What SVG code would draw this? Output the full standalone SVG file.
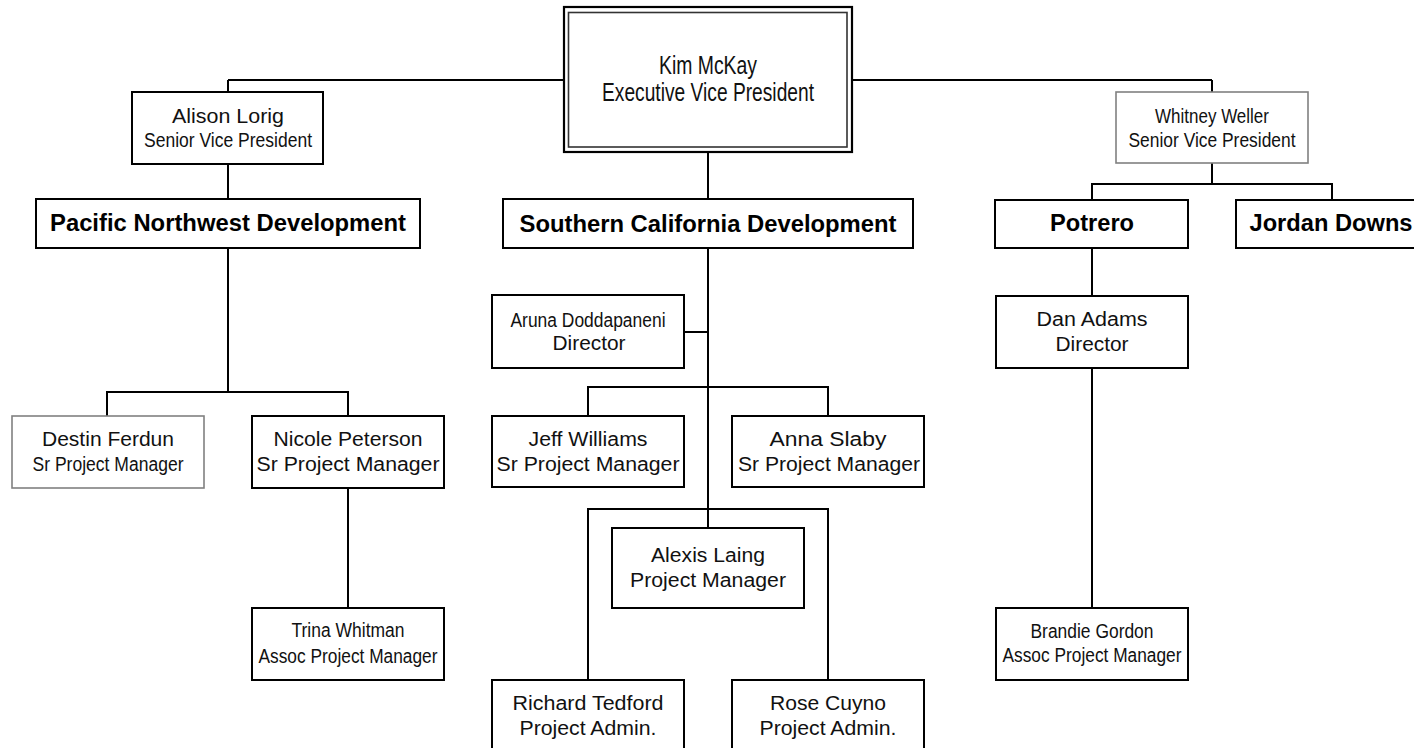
<svg xmlns="http://www.w3.org/2000/svg" width="1414" height="748" viewBox="0 0 1414 748">
  <style>
    .box { fill: #ffffff; stroke: #000000; stroke-width: 2; }
    .box.light { stroke: #808080; stroke-width: 1.6; }
    .outer { fill: #ffffff; stroke: #000000; stroke-width: 2.2; }
    .inner { fill: none; stroke: #333333; stroke-width: 1.6; }
    .link { fill: none; stroke: #000000; stroke-width: 2; }
    text { font-family: "Liberation Sans", Arial, sans-serif; fill: #111111; text-anchor: middle; }
    .t { font-size: 20px; }
    .big { font-size: 25px; }
    .bold { font-size: 23px; font-weight: bold; fill: #000000; }
  </style>

  <rect width="1414" height="748" fill="#ffffff"/>

  <!-- reporting lines -->
  <g id="connectors">
    <path class="link" d="M228 80 H564 M852 80 H1212 M228 80 V92 M1212 80 V92"/>
    <path class="link" d="M228 164 V199 M228 248 V392 M107 392 H349 M107 391 V416 M348 391 V416 M348 488 V608"/>
    <path class="link" d="M708 152 V199 M708 248 V528 M684 332 H708"/>
    <path class="link" d="M587 387 H829 M588 386 V416 M828 386 V416"/>
    <path class="link" d="M587 509 H829 M588 508 V680 M828 508 V680"/>
    <path class="link" d="M1212 163 V184 M1091 184 H1333 M1092 183 V200 M1332 183 V200"/>
    <path class="link" d="M1092 248 V296 M1092 368 V608"/>
  </g>

  <g id="kim-mckay">
    <rect class="outer" x="564" y="7" width="288" height="145"/>
    <rect class="inner" x="568.5" y="12.5" width="278.5" height="134.5"/>
    <text class="big" x="708" y="74" textLength="98" lengthAdjust="spacingAndGlyphs">Kim McKay</text>
    <text class="big" x="708" y="101" textLength="212" lengthAdjust="spacingAndGlyphs">Executive Vice President</text>
  </g>

  <g id="alison-lorig">
    <rect class="box" x="132" y="92" width="191" height="72"/>
    <text class="t" x="228" y="123" textLength="112" lengthAdjust="spacingAndGlyphs" style="font-size:21px">Alison Lorig</text>
    <text class="t" x="228" y="147" textLength="168" lengthAdjust="spacingAndGlyphs">Senior Vice President</text>
  </g>

  <g id="whitney-weller">
    <rect class="box light" x="1116" y="92" width="192" height="71"/>
    <text class="t" x="1212" y="123" textLength="114" lengthAdjust="spacingAndGlyphs">Whitney Weller</text>
    <text class="t" x="1212" y="147" textLength="167" lengthAdjust="spacingAndGlyphs">Senior Vice President</text>
  </g>

  <g id="pacific-northwest">
    <rect class="box" x="36" y="199" width="384" height="49"/>
    <text class="bold" x="228" y="231" textLength="356" lengthAdjust="spacingAndGlyphs">Pacific Northwest Development</text>
  </g>

  <g id="southern-california">
    <rect class="box" x="503" y="199" width="410" height="49"/>
    <text class="bold" x="708" y="231.5" textLength="377" lengthAdjust="spacingAndGlyphs">Southern California Development</text>
  </g>

  <g id="potrero">
    <rect class="box" x="995" y="200" width="193" height="48"/>
    <text class="bold" x="1092" y="231" textLength="84" lengthAdjust="spacingAndGlyphs">Potrero</text>
  </g>

  <g id="jordan-downs">
    <rect class="box" x="1236" y="200" width="200" height="48"/>
    <text class="bold" x="1331" y="231" textLength="163" lengthAdjust="spacingAndGlyphs">Jordan Downs</text>
  </g>

  <g id="aruna-doddapaneni">
    <rect class="box" x="492" y="295" width="192" height="73"/>
    <text class="t" x="588" y="327" textLength="155" lengthAdjust="spacingAndGlyphs">Aruna Doddapaneni</text>
    <text class="t" x="589" y="350" textLength="73" lengthAdjust="spacingAndGlyphs">Director</text>
  </g>

  <g id="dan-adams">
    <rect class="box" x="996" y="296" width="192" height="72"/>
    <text class="t" x="1092" y="326" textLength="111" lengthAdjust="spacingAndGlyphs">Dan Adams</text>
    <text class="t" x="1092" y="351" textLength="73" lengthAdjust="spacingAndGlyphs">Director</text>
  </g>

  <g id="destin-ferdun">
    <rect class="box light" x="12" y="416" width="192" height="72"/>
    <text class="t" x="108" y="446" textLength="132" lengthAdjust="spacingAndGlyphs">Destin Ferdun</text>
    <text class="t" x="108" y="471" textLength="151" lengthAdjust="spacingAndGlyphs">Sr Project Manager</text>
  </g>

  <g id="nicole-peterson">
    <rect class="box" x="252" y="416" width="192" height="72"/>
    <text class="t" x="348" y="446" textLength="149" lengthAdjust="spacingAndGlyphs">Nicole Peterson</text>
    <text class="t" x="348" y="471" textLength="183" lengthAdjust="spacingAndGlyphs">Sr Project Manager</text>
  </g>

  <g id="jeff-williams">
    <rect class="box" x="492" y="416" width="192" height="71"/>
    <text class="t" x="588" y="446" textLength="119" lengthAdjust="spacingAndGlyphs">Jeff Williams</text>
    <text class="t" x="588" y="471" textLength="183" lengthAdjust="spacingAndGlyphs">Sr Project Manager</text>
  </g>

  <g id="anna-slaby">
    <rect class="box" x="732" y="416" width="192" height="71"/>
    <text class="t" x="828" y="446" textLength="117" lengthAdjust="spacingAndGlyphs">Anna Slaby</text>
    <text class="t" x="829" y="471" textLength="182" lengthAdjust="spacingAndGlyphs">Sr Project Manager</text>
  </g>

  <g id="alexis-laing">
    <rect class="box" x="612" y="528" width="192" height="80"/>
    <text class="t" x="708" y="562" textLength="114" lengthAdjust="spacingAndGlyphs">Alexis Laing</text>
    <text class="t" x="708" y="587" textLength="156" lengthAdjust="spacingAndGlyphs">Project Manager</text>
  </g>

  <g id="trina-whitman">
    <rect class="box" x="252" y="608" width="192" height="72"/>
    <text class="t" x="348" y="637" textLength="113" lengthAdjust="spacingAndGlyphs">Trina Whitman</text>
    <text class="t" x="348" y="663" textLength="179" lengthAdjust="spacingAndGlyphs">Assoc Project Manager</text>
  </g>

  <g id="brandie-gordon">
    <rect class="box" x="996" y="608" width="192" height="72"/>
    <text class="t" x="1092" y="638" textLength="123" lengthAdjust="spacingAndGlyphs">Brandie Gordon</text>
    <text class="t" x="1092" y="662" textLength="179" lengthAdjust="spacingAndGlyphs">Assoc Project Manager</text>
  </g>

  <g id="richard-tedford">
    <rect class="box" x="492" y="680" width="192" height="80"/>
    <text class="t" x="588" y="710" textLength="151" lengthAdjust="spacingAndGlyphs">Richard Tedford</text>
    <text class="t" x="588" y="735" textLength="137" lengthAdjust="spacingAndGlyphs">Project Admin.</text>
  </g>

  <g id="rose-cuyno">
    <rect class="box" x="732" y="680" width="192" height="80"/>
    <text class="t" x="828" y="710" textLength="116" lengthAdjust="spacingAndGlyphs">Rose Cuyno</text>
    <text class="t" x="828" y="735" textLength="137" lengthAdjust="spacingAndGlyphs">Project Admin.</text>
  </g>
</svg>
